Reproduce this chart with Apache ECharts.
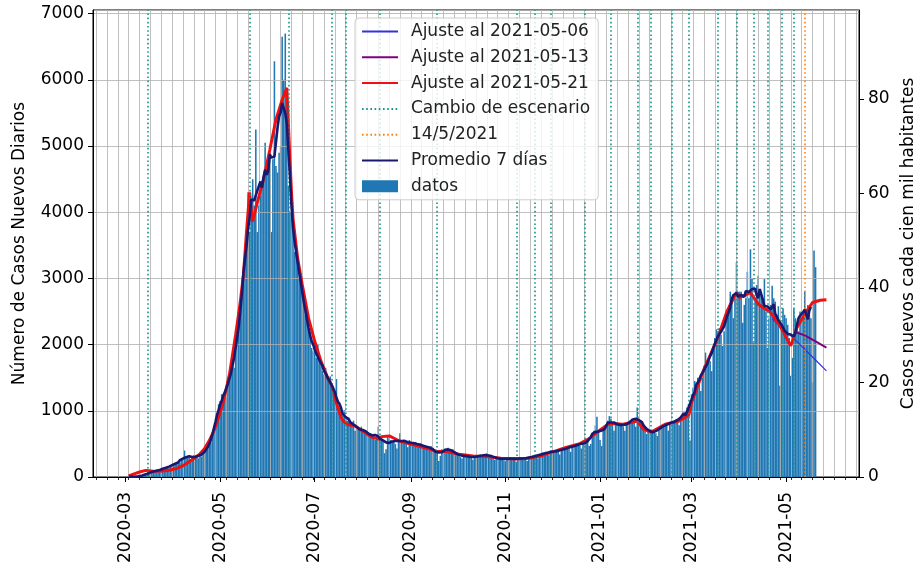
<!DOCTYPE html>
<html><head><meta charset="utf-8">
<script src="https://cdn.jsdelivr.net/npm/echarts@6/dist/echarts.min.js"></script>
<style>html,body{margin:0;padding:0;background:#fff}#c{width:916px;height:564px}</style>
</head><body><div id="c"></div>
<script>
// ---- DATA ----
// Daily new cases, each array starts at the date given in monthStarts
const cases2020_03 = [1,2,1,3,4,5,9,12,14,18, 22,40,55,70,60,75,85,80,90,110, 95,120,130,115,140,160,140,170,190]; // from 2020-03-03
const cases2020_04 = [180,200,210,230,220,250,260,400,300,290, 310,270,290,330,300,320,280,340,310,350, 380,400,420,470,520,610,700,820,950,1100];
const cases2020_05 = [1150,1250,1100,1300,1200,1500,1450,1600,1700,1650, 1900,2000,2300,2500,2700,2900,3300,3600,4300,3700, 3900,4500,4100,5250,3700,4100,4250,4400,4500,5050, 4600];
const cases2020_06 = [4800,4900,3700,4800,6280,4700,4600,4900,5000,6650, 6000,6700,5700,4400,4000,3900,3800,3400,3500,3300, 3000,2900,2800,2700,2450,2350,2250,2150,1950,1900];
const cases2020_07 = [1950,1800,2000,1750,1700,1600,1550,1650,1500,1450, 1520,1350,1250,1300,1480,1000,1050,950,920,1010, 880,850,900,820,780,850,700,760,740,720, 760];
const cases2020_08 = [720,650,700,680,640,660,620,600,560,640, 760,600,580,560,360,420,600,580,560,540, 550,500,430,560,660,540,560,530,520,450, 560];
const cases2020_09 = [540,520,500,530,480,450,510,500,470,480, 460,430,400,470,450,420,400,380,240,320, 420,410,430,420,440,410,390,420,380,360];
const cases2020_10 = [350,330,300,280,350,340,320,310,300,290, 260,320,330,310,300,340,330,290,340,360, 340,330,320,300,260,300,290,280,290,270, 250];
const cases2020_11 = [240,290,300,290,280,290,270,230,280,300, 290,280,300,270,240,300,310,320,330,310, 300,280,350,360,370,340,380,360,330,400];
const cases2020_12 = [380,390,400,420,380,340,410,430,450,440, 460,430,380,470,490,500,480,510,470,430, 520,540,560,580,470,500,620,700,780,910, 700];
const cases2021_01 = [560,470,700,780,800,850,920,880,820,700, 800,830,820,810,790,760,700,790,820,850, 860,880,870,760,1050,880,850,820,800,760, 650];
const cases2021_02 = [700,690,680,700,690,660,620,740,760,780, 800,790,810,700,820,840,850,860,870,830, 780,900,940,960,1000,1050,1100,550];
const cases2021_03 = [1250,1350,1450,1430,1500,1450,1300,1500,1680,1880, 1700,1800,1750,1600,1950,2100,2230,2200,2250,2150, 1980,2200,2350,2400,2600,2800,2700,2400,2700,3240, 2800];
const cases2021_04 = [2800,2800,2330,2600,2700,3100,2700,3440,3000,2030, 2700,2900,3040,2800,2750,2700,2990,2500,1950,2400, 2600,2890,2700,2650,2450,2580,1380,2300,2550,2450];
const cases2021_05 = [2400,2300,2100,1530,1800,2540,2400,2300,2200,2500, 2350,2500,2800,2500,2600,2450,2400,1430,3420,3170];

const monthStarts = ['2020-03-03','2020-04-01','2020-05-01','2020-06-01','2020-07-01','2020-08-01','2020-09-01','2020-10-01','2020-11-01','2020-12-01','2021-01-01','2021-02-01','2021-03-01','2021-04-01','2021-05-01'];
const monthArrays = [cases2020_03,cases2020_04,cases2020_05,cases2020_06,cases2020_07,cases2020_08,cases2020_09,cases2020_10,cases2020_11,cases2020_12,cases2021_01,cases2021_02,cases2021_03,cases2021_04,cases2021_05];

// Fits [date, cases]
const fit0521 = [['2020-03-03',15],['2020-03-07',50],['2020-03-10',75],['2020-03-14',100],['2020-03-16',95],['2020-03-20',85],['2020-03-25',90],['2020-03-30',105],['2020-04-03',130],['2020-04-07',170],['2020-04-11',230],['2020-04-14',280],['2020-04-18',350],['2020-04-21',430],['2020-04-24',550],['2020-04-27',700],['2020-04-30',900],['2020-05-03',1130],['2020-05-07',1550],['2020-05-11',2150],['2020-05-14',2650],['2020-05-16',3050],['2020-05-18',3700],['2020-05-20',4300],['2020-05-21',4050],['2020-05-22',3860],['2020-05-25',4150],['2020-05-29',4500],['2020-06-02',4940],['2020-06-06',5400],['2020-06-10',5700],['2020-06-13',5880],['2020-06-14',5850],['2020-06-15',4800],['2020-06-16',4300],['2020-06-17',3900],['2020-06-20',3300],['2020-06-23',2900],['2020-06-27',2400],['2020-07-01',2050],['2020-07-05',1750],['2020-07-09',1520],['2020-07-12',1380],['2020-07-14',1200],['2020-07-16',1040],['2020-07-18',900],['2020-07-20',830],['2020-07-23',790],['2020-07-27',770],['2020-08-01',690],['2020-08-07',600],['2020-08-12',570],['2020-08-13',610],['2020-08-18',620],['2020-08-25',540],['2020-09-02',490],['2020-09-10',440],['2020-09-18',385],['2020-09-24',385],['2020-10-02',345],['2020-10-11',318],['2020-10-20',308],['2020-10-29',285],['2020-11-08',272],['2020-11-16',282],['2020-11-24',318],['2020-12-02',383],['2020-12-10',445],['2020-12-19',505],['2020-12-25',580],['2021-01-01',711],['2021-01-07',810],['2021-01-16',796],['2021-01-25',847],['2021-01-29',720],['2021-02-03',680],['2021-02-12',796],['2021-02-21',847],['2021-02-27',930],['2021-02-28',1000],['2021-03-01',1124],['2021-03-09',1628],['2021-03-18',2107],['2021-03-24',2510],['2021-03-30',2787],['2021-04-01',2711],['2021-04-08',2787],['2021-04-13',2611],['2021-04-21',2485],['2021-04-27',2283],['2021-05-04',1981],['2021-05-08',2258],['2021-05-13',2460],['2021-05-18',2636],['2021-05-23',2670],['2021-05-27',2676]];
const fit0506 = [['2021-04-22',2390],['2021-05-01',2200],['2021-05-10',2000],['2021-05-19',1790],['2021-05-27',1603]];
const fit0513 = [['2021-05-07',2190],['2021-05-13',2140],['2021-05-20',2050],['2021-05-27',1956]];

const scenarioChanges = ['2020-03-15','2020-05-20','2020-06-14','2020-07-12','2020-07-21','2020-08-12','2020-09-18','2020-11-08','2020-11-20','2020-11-30','2020-12-22','2021-01-08','2021-01-25','2021-02-03','2021-02-16','2021-02-27','2021-03-18','2021-03-30','2021-04-10','2021-04-19','2021-04-28','2021-05-06'];
const markedDate = '2021-05-13';

const casesPer100k = 71.38;       // cases per 1 case/100k inhabitants
const leftTicks = [0,1000,2000,3000,4000,5000,6000,7000];
const rightTicks = [0,20,40,60,80];

// ---- BUILD ----
const axisFrom = Date.UTC(2020,1,9), axisTo = Date.UTC(2021,5,17);
const ymd = t => new Date(t).toISOString().slice(0,10);
const days = [];
for (let t = axisFrom; t <= axisTo; t += 86400000) days.push(ymd(t));
const idx = {}; days.forEach((d,i)=>idx[d]=i);
const daily = days.map(()=>null);
monthArrays.forEach((arr, k) => {
  const s = idx[monthStarts[k]];
  arr.forEach((v, j) => { daily[s+j] = v; });
});
let firstI = daily.findIndex(v=>v!==null), lastI = daily.length-1;
while (daily[lastI]===null) lastI--;
const avg = days.map((d,i)=>{
  if (i<firstI || i+3>lastI) return '-';
  let s=0,n=0;
  for (let k=Math.max(firstI,i-3); k<=i+3; k++){ s+=daily[k]; n++; }
  return n>=4 ? +(s/n).toFixed(1) : '-';
});
const barData = daily.map(v=> v===null ? '-' : v);

const yMax = 7055;
const isMajor = v => /^\d{4}-(01|03|05|07|09|11)-01$/.test(v);
const isTue = v => new Date(v+'T00:00:00Z').getUTCDay() === 2;
const FONT = 'DejaVu Sans';
const noSym = {opacity: 0};

const chart = echarts.init(document.getElementById('c'), null, {renderer:'canvas'});
chart.setOption({
  animation: false,
  backgroundColor: '#fff',
  textStyle: {fontFamily: FONT},
  grid: {left: 93, right: 57, top: 10, bottom: 87, show: true, borderColor: '#000', borderWidth: 1, containLabel: false, outerBoundsMode: 'none'},
  legend: {
    left: 355, top: 18, orient: 'vertical', z: 10,
    itemWidth: 36, itemHeight: 12, itemGap: 8.8,
    padding: [5, 8, 5, 6],
    backgroundColor: 'rgba(255,255,255,0.8)', borderColor: '#cccccc', borderWidth: 1, borderRadius: 4,
    textStyle: {fontSize: 17, color: '#222', fontFamily: FONT, padding: [0,0,0,8]},
    data: [
      {name:'Ajuste al 2021-05-06', itemStyle: noSym},
      {name:'Ajuste al 2021-05-13', itemStyle: noSym},
      {name:'Ajuste al 2021-05-21', itemStyle: noSym},
      {name:'Cambio de escenario', itemStyle: noSym},
      {name:'14/5/2021', itemStyle: noSym},
      {name:'Promedio 7 días', itemStyle: noSym},
      {name:'datos', icon:'rect'}
    ]
  },
  xAxis: [{
    type: 'category', data: days, boundaryGap: false, z: 2,
    axisLine: {onZero: false, lineStyle: {color: '#000', width: 1}},
    axisTick: {interval: (i,v)=>isMajor(v), length: 5, lineStyle: {color: '#000', width: 1}},
    axisLabel: {interval: (i,v)=>isMajor(v), rotate: 90, margin: 15, fontSize: 17, color: '#000', fontFamily: FONT, formatter: v=>v.slice(0,7)},
    splitLine: {show: false}
  },{
    type: 'category', data: days, boundaryGap: false, position: 'bottom', z: 2,
    axisLine: {show: false, onZero: false},
    axisTick: {interval: (i,v)=>isTue(v), length: 3, lineStyle: {color: '#000', width: 0.8}},
    axisLabel: {show: false},
    splitLine: {show: true, interval: (i,v)=>isTue(v), lineStyle: {color: '#b0b0b0', width: 0.8}}
  }],
  yAxis: [{
    type: 'value', min: 0, max: yMax, interval: 1000, z: 2,
    name: 'Número de Casos Nuevos Diarios', nameLocation: 'middle', nameGap: 65,
    nameTextStyle: {fontSize: 17, color: '#000', fontFamily: FONT},
    axisLine: {show: true, lineStyle: {color: '#000', width: 1}},
    axisTick: {show: true, length: 5, lineStyle: {color: '#000'}},
    axisLabel: {fontSize: 17, color: '#000', margin: 9, showMaxLabel: false, fontFamily: FONT,
      formatter: v => leftTicks.includes(v) ? String(v) : ''},
    splitLine: {show: true, lineStyle: {color: '#b0b0b0', width: 0.8}}
  },{
    type: 'value', min: 0, max: yMax/casesPer100k, interval: 20, position: 'right', z: 2,
    name: 'Casos nuevos cada cien mil habitantes', nameLocation: 'middle', nameGap: 40, nameRotate: 90,
    nameTextStyle: {fontSize: 17, color: '#000', fontFamily: FONT},
    axisLine: {show: true, lineStyle: {color: '#000', width: 1}},
    axisTick: {show: true, length: 5, lineStyle: {color: '#000'}},
    axisLabel: {fontSize: 17, color: '#000', margin: 9, showMaxLabel: false, fontFamily: FONT,
      formatter: v => rightTicks.includes(v) ? String(v) : ''},
    splitLine: {show: false}
  }],
  series: [
    {name: 'datos', type: 'bar', data: barData, z: 1, barWidth: '100%', itemStyle: {color: '#1f77b4'}, silent: true},
    {name: 'Ajuste al 2021-05-06', type: 'line', data: fit0506, z: 3, symbol: 'none', lineStyle: {color: '#3232e0', width: 1.2}, itemStyle: {color: '#3232e0'}},
    {name: 'Ajuste al 2021-05-13', type: 'line', data: fit0513, z: 3, symbol: 'none', lineStyle: {color: '#800080', width: 2}, itemStyle: {color: '#800080'}},
    {name: 'Ajuste al 2021-05-21', type: 'line', data: fit0521, z: 4, symbol: 'none', lineStyle: {color: '#ee1111', width: 3}, itemStyle: {color: '#ee1111'}},
    {name: 'Cambio de escenario', type: 'line', data: [], z: 5, symbol: 'none',
      lineStyle: {color: '#16968a', width: 1.6, type: [1.6, 2.6]}, itemStyle: {color: '#16968a'},
      markLine: {silent: true, symbol: 'none', label: {show: false}, animation: false,
        lineStyle: {color: '#16968a', width: 1.6, type: [1.6, 2.6]},
        data: scenarioChanges.map(d=>({xAxis: d}))}},
    {name: '14/5/2021', type: 'line', data: [], z: 5, symbol: 'none',
      lineStyle: {color: '#ff7f0e', width: 1.6, type: [1.6, 2.6]}, itemStyle: {color: '#ff7f0e'},
      markLine: {silent: true, symbol: 'none', label: {show: false}, animation: false,
        lineStyle: {color: '#ff7f0e', width: 1.6, type: [1.6, 2.6]},
        data: [{xAxis: markedDate}]}},
    {name: 'Promedio 7 días', type: 'line', data: avg, z: 6, symbol: 'none', connectNulls: false, lineStyle: {color: '#191970', width: 2.6}, itemStyle: {color: '#191970'}}
  ]
});
</script></body></html>
